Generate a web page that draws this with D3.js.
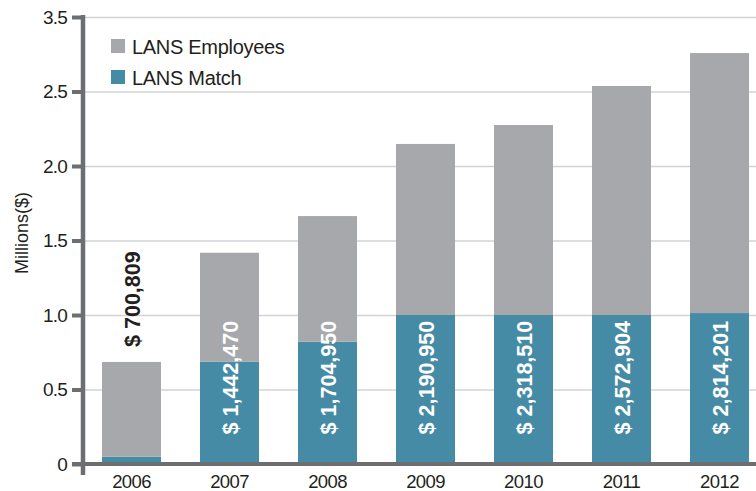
<!DOCTYPE html>
<html>
<head>
<meta charset="utf-8">
<script src="https://cdn.jsdelivr.net/npm/d3@7"></script>
<style>
  html, body { margin: 0; padding: 0; background: #fff; }
  svg { display: block; font-family: "Liberation Sans", Arial, sans-serif; }
</style>
</head>
<body>
<svg id="chart" width="756" height="491"></svg>
<script>
// Values (millions of dollars)
const years = ["2006", "2007", "2008", "2009", "2010", "2011", "2012"]
const matchValues = [0.049, 0.687, 0.821, 1.0, 1.0, 1.0, 1.013]
const employeeValues = [0.636, 0.731, 0.843, 1.148, 1.275, 1.537, 1.745]
const totalLabels = ["$ 700,809", "$ 1,442,470", "$ 1,704,950", "$ 2,190,950",
  "$ 2,318,510", "$ 2,572,904", "$ 2,814,201"]
const yTicks = [0, 0.5, 1, 1.5, 2, 2.5, 3]
const yTickLabels = ["0", "0.5", "1.0", "1.5", "2.0", "2.5", "3.5"]
const seriesNames = ["LANS Employees", "LANS Match"]

const colours = { employees: "#a7a8ab", match: "#468ba6", axis: "#6d6e71", grid: "#d2d3d4", text: "#231f20" }

const svg = d3.select("#chart")

let x = d3.scaleBand()
  .domain(years)
  .range([83, 768])
  .paddingInner(0.398)
  .paddingOuter(0.194)

let y = d3.scaleLinear()
  .domain([0, 3])
  .range([464, 17])

// Gridlines
svg.append("g")
  .attr("class", "grid")
  .attr("transform", "translate(83,0)")
  .call(d3.axisLeft(y).tickValues(yTicks).tickSize(-700).tickFormat(""))
  .call(g => g.select(".domain").remove())
  .call(g => g.selectAll("line").attr("stroke", colours.grid).attr("stroke-width", 1.5))

// Stack the two series
let rows = years.map((yr, i) => ({ year: yr, match: matchValues[i], employees: employeeValues[i] }))
let stack = d3.stack().keys(["match", "employees"])(rows)

svg.append("g")
  .attr("class", "bars")
  .selectAll("g.series")
  .data(stack)
  .join("g")
  .attr("class", "series")
  .attr("fill", d => colours[d.key])
  .selectAll("rect")
  .data(d => d)
  .join("rect")
  .attr("x", d => x(d.data.year))
  .attr("width", x.bandwidth())
  .attr("y", d => y(d[1]))
  .attr("height", d => y(d[0]) - y(d[1]))

// Value labels (rotated)
svg.append("g")
  .attr("class", "valueLabels")
  .selectAll("text")
  .data(rows)
  .join("text")
  .attr("transform", (d, i) => {
    let cx = x(d.year) + x.bandwidth() / 2 + 1
    let cy = i === 0 ? y(d.match + d.employees) - 15 : y(0.58)
    return `translate(${cx},${cy}) rotate(-90)`
  })
  .attr("text-anchor", (d, i) => i === 0 ? "start" : "middle")
  .attr("dy", "0.36em")
  .attr("font-size", 21.5)
  .attr("font-weight", "bold")
  .attr("fill", (d, i) => i === 0 ? colours.text : "#fff")
  .text((d, i) => totalLabels[i])

// Y axis
svg.append("g")
  .attr("class", "yAxis")
  .attr("transform", "translate(83,0)")
  .call(d3.axisLeft(y).tickValues(yTicks).tickSize(11).tickPadding(5)
    .tickFormat((d, i) => yTickLabels[i]))
  .call(g => g.select(".domain").remove())
  .call(g => g.selectAll("line").attr("stroke", colours.axis).attr("stroke-width", 4))
  .call(g => g.selectAll("text")
    .attr("font-size", 19)
    .attr("letter-spacing", -0.8)
    .attr("fill", colours.text))

// X axis baseline
svg.append("line")
  .attr("x1", 72).attr("x2", 756)
  .attr("y1", y(0)).attr("y2", y(0))
  .attr("stroke", colours.axis)
  .attr("stroke-width", 4)

// Y axis line
svg.append("line")
  .attr("x1", 83).attr("x2", 83)
  .attr("y1", y(3) - 2).attr("y2", 475)
  .attr("stroke", colours.axis)
  .attr("stroke-width", 4.5)

// X axis labels
svg.append("g")
  .attr("class", "xAxis")
  .attr("transform", `translate(0,${y(0)})`)
  .call(d3.axisBottom(x).tickSize(0).tickPadding(11))
  .call(g => g.select(".domain").remove())
  .call(g => g.selectAll("text")
    .attr("font-size", 18.5)
    .attr("letter-spacing", -0.6)
    .attr("fill", colours.text))

// Y axis title
svg.append("text")
  .attr("transform", "translate(22,233) rotate(-90)")
  .attr("text-anchor", "middle")
  .attr("dy", "0.36em")
  .attr("font-size", 18)
  .attr("fill", colours.text)
  .text("Millions($)")

// Legend
let legend = svg.append("g")
  .attr("class", "legend")
  .attr("transform", "translate(111,39)")
let entries = legend.selectAll("g.entry")
  .data([{ name: seriesNames[0], key: "employees" }, { name: seriesNames[1], key: "match" }])
  .join("g")
  .attr("class", "entry")
  .attr("transform", (d, i) => `translate(0,${i * 31})`)
entries.append("rect")
  .attr("width", 14)
  .attr("height", 14)
  .attr("fill", d => colours[d.key])
entries.append("text")
  .attr("x", 21)
  .attr("y", 15)
  .attr("font-size", 20)
  .attr("letter-spacing", -0.3)
  .attr("fill", colours.text)
  .text(d => d.name)
</script>
</body>
</html>
